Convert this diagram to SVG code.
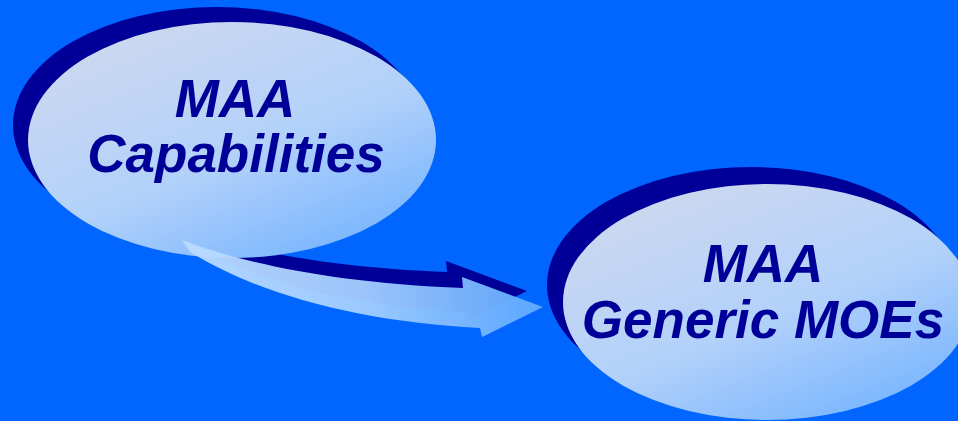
<svg xmlns="http://www.w3.org/2000/svg" width="958" height="421" viewBox="0 0 958 421">
<defs>
<linearGradient id="lg" x1="0.15" y1="0" x2="0.85" y2="1">
<stop offset="0" stop-color="#cfd9ee"/>
<stop offset="0.55" stop-color="#b2d1fa"/>
<stop offset="1" stop-color="#72b2ff"/>
</linearGradient>
<linearGradient id="ag" x1="0" y1="0" x2="1" y2="0">
<stop offset="0" stop-color="#bcdcff"/>
<stop offset="0.5" stop-color="#a4cfff"/>
<stop offset="1" stop-color="#60aaff"/>
</linearGradient>
<style>
.shadow{fill:#000099}
.light{fill:url(#lg)}
.lbl{font-family:"Liberation Sans",Arial,sans-serif;font-weight:bold;font-style:italic;font-size:53px;fill:#000099;text-anchor:middle}
</style>
</defs>
<rect width="958" height="421" fill="#0066FF"/>
<g id="node-capabilities">
<ellipse class="shadow" cx="217" cy="125" rx="204" ry="118"/>
</g>
<g id="connectors">
<path class="shadow" d="M164 222 C224 246 314 267 447 272 L446 261 L527 291 L466 321 L464 312 C344 306 244 279 172 234 Z"/>
</g>
<g id="node-capabilities-face">
<ellipse class="light" cx="232" cy="140" rx="204" ry="118"/>
<text class="lbl" x="235" y="117">MAA</text>
<text class="lbl" x="236" y="172">Capabilities</text>
</g>
<g id="connector-arrow">
<path fill="url(#ag)" opacity="0.95" d="M182 240 C240 262 330 283 463 288 L462 277 L543 307 L482 337 L480 328 C360 322 260 295 190 252 Z"/>
</g>
<g id="node-moes">
<ellipse class="shadow" cx="751" cy="285" rx="204" ry="118"/>
<ellipse class="light" cx="767" cy="302" rx="204" ry="118"/>
<text class="lbl" x="763" y="282">MAA</text>
<text class="lbl" x="763" y="338">Generic MOEs</text>
</g>
</svg>
